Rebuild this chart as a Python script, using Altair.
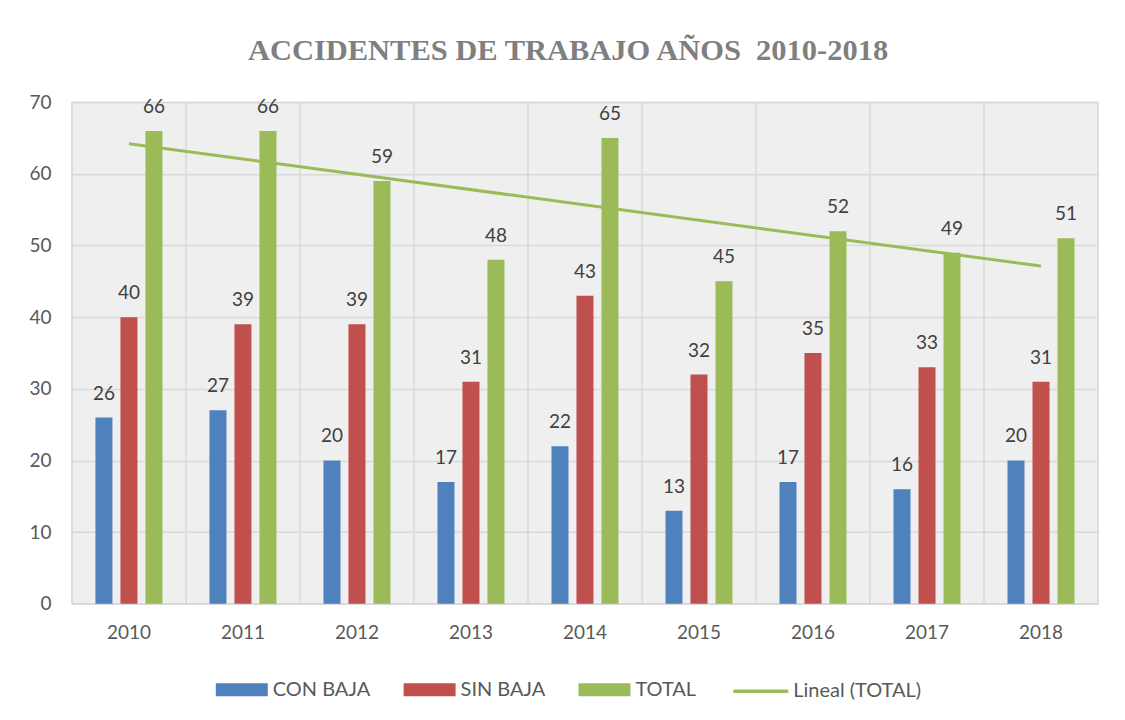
import altair as alt
import pandas as pd

years = ["2010", "2011", "2012", "2013", "2014", "2015", "2016", "2017", "2018"]
con_baja = [26, 27, 20, 17, 22, 13, 17, 16, 20]
sin_baja = [40, 39, 39, 31, 43, 32, 35, 33, 31]
total = [66, 66, 59, 48, 65, 45, 52, 49, 51]
series = ["CON BAJA", "SIN BAJA", "TOTAL"]
colors = ["#4F81BD", "#C0504D", "#9BBB59"]
trend_label = "Lineal (TOTAL)"
y_ticks = [0, 10, 20, 30, 40, 50, 60, 70]
title_text = "ACCIDENTES DE TRABAJO AÑOS\u00a0 2010-2018"

rows = []
for s, vals in zip(series, [con_baja, sin_baja, total]):
    for yr, v in zip(years, vals):
        rows.append({"year": yr, "serie": s, "value": v})
df = pd.DataFrame(rows)
df_total = pd.DataFrame({"yearnum": [int(y) for y in years], "value": total})
df_years = pd.DataFrame({"year": years})

W, H = 1027, 502
FONT = "Lato"
TXT = "#595959"
GRID = "#d9d9d9"

xscale = alt.Scale(domain=years, paddingInner=0, paddingOuter=0)
xaxis = alt.Axis(title=None, labelFontSize=19, labelFont=FONT, labelColor=TXT,
                 labelPadding=20, ticks=False, domain=False, labelAngle=0, grid=False)
yscale = alt.Scale(domain=[0, 70], nice=False)
yaxis = alt.Axis(title=None, values=y_ticks, labelFontSize=19, labelFont=FONT,
                 labelColor=TXT, labelPadding=21, ticks=False, domain=False,
                 grid=True, gridColor=GRID, gridWidth=1.5)

vrules = alt.Chart(df_years).mark_rule(color=GRID, strokeWidth=1.5).encode(
    x=alt.X("year:N", bandPosition=0, scale=xscale, axis=xaxis)
)

xoff = alt.XOffset("serie:N", scale=alt.Scale(domain=series, paddingInner=0.32, paddingOuter=0.94))

bars = alt.Chart(df).mark_bar().encode(
    x=alt.X("year:N", scale=xscale, axis=xaxis),
    xOffset=xoff,
    y=alt.Y("value:Q", scale=yscale, axis=yaxis),
    color=alt.Color(
        "serie:N",
        scale=alt.Scale(domain=series, range=colors),
        legend=alt.Legend(
            orient="none", legendX=144, legendY=562, direction="horizontal", title=None,
            symbolType="M-1,-0.25H1V0.25H-1Z", symbolSize=2704, symbolStrokeWidth=0,
            labelFontSize=20, labelFont=FONT, labelColor=TXT,
            columnPadding=33, labelOffset=5,
        ),
    ),
)

labels = alt.Chart(df).mark_text(dy=-24, baseline="middle", fontSize=19, font=FONT, color="#404040").encode(
    x=alt.X("year:N", scale=xscale, axis=xaxis),
    xOffset=xoff,
    y=alt.Y("value:Q", scale=yscale, axis=yaxis),
    text="value:Q",
)

trend = (
    alt.Chart(df_total)
    .transform_regression("yearnum", "value")
    .transform_calculate(year="toString(datum.yearnum)", serie=f"'{trend_label}'")
    .mark_line(strokeWidth=3)
    .encode(
        x=alt.X("year:N", scale=xscale, axis=xaxis),
        y=alt.Y("value:Q", scale=yscale, axis=yaxis),
        color=alt.Color(
            "serie:N",
            scale=alt.Scale(domain=[trend_label], range=["#9BBB59"]),
            legend=alt.Legend(
                orient="none", legendX=660, legendY=560, direction="horizontal", title=None,
                symbolType="stroke", symbolSize=3025, symbolStrokeWidth=3.5,
                labelFontSize=20, labelFont=FONT, labelColor=TXT, labelOffset=3,
            ),
        ),
    )
)

chart = (
    alt.layer(vrules, bars, trend, labels)
    .resolve_scale(color="independent")
    .properties(
        width=W,
        height=H,
        autosize=alt.AutoSizeParams(type="none"),
        padding={"left": 64, "top": 94, "right": 19, "bottom": 114},
        title=alt.Title(title_text, font="Liberation Serif", fontWeight="bold", fontSize=30.5,
                        color="#7f7f7f", anchor="middle", offset=27, dx=-17),
        background="white",
    )
    .configure_view(stroke=GRID, strokeWidth=1.5, fill="#efefef")
)

chart.save("out.html", embed_options={"renderer": "svg", "actions": False})
